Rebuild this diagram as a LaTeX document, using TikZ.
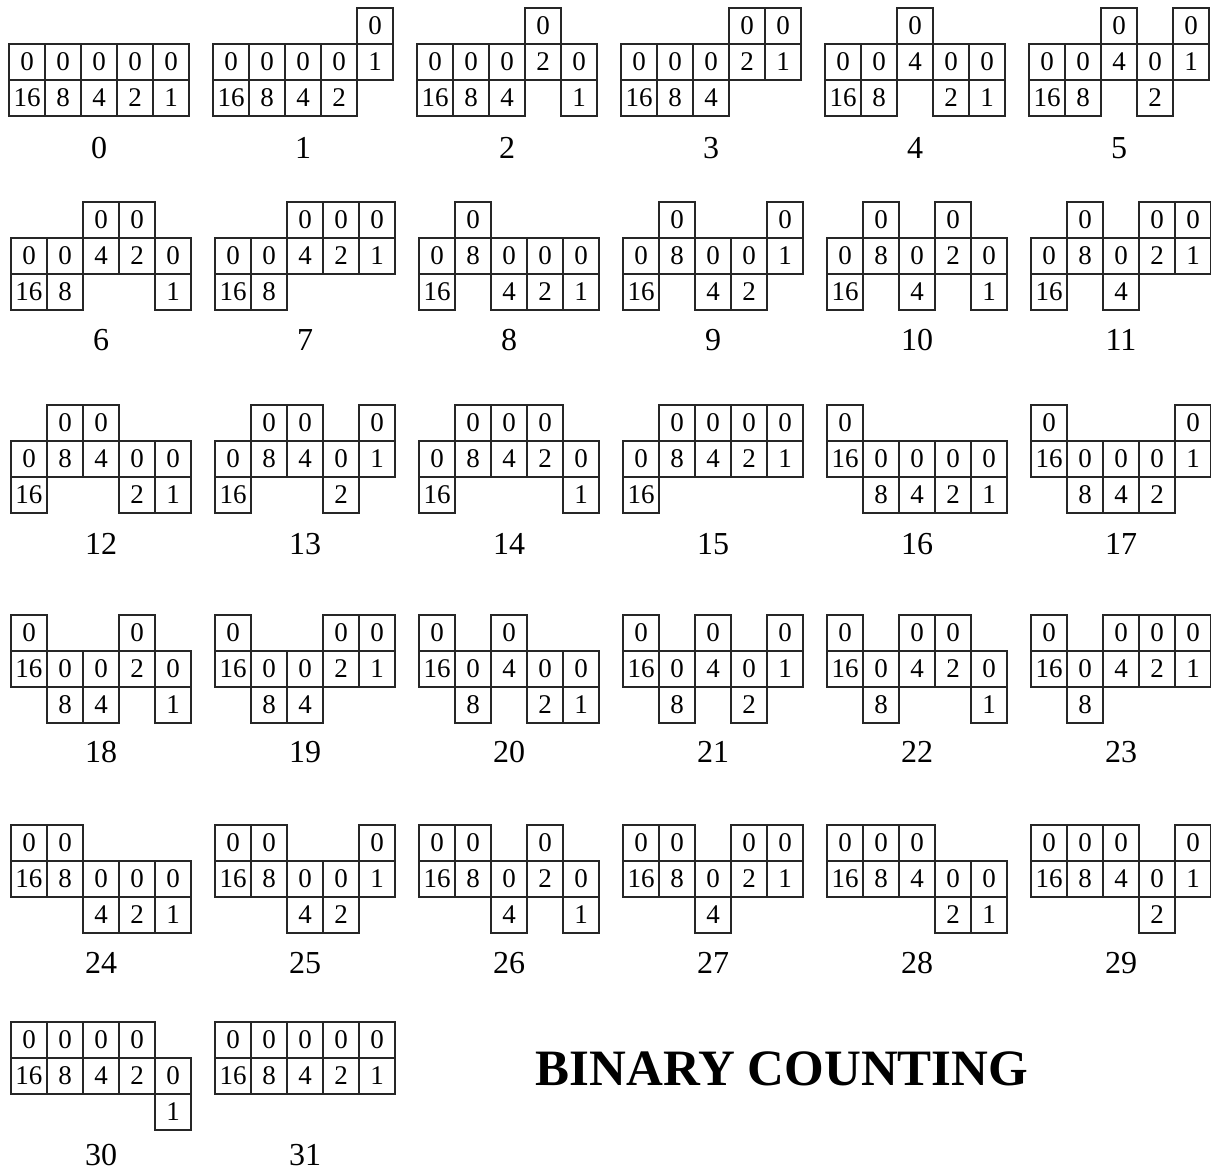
\documentclass[tikz,border=0pt]{standalone}
\usepackage{fontspec}
\setmainfont{Liberation Serif}
\begin{document}
\begin{tikzpicture}[x=1pt,y=-1pt,
  cell/.style={draw=black!85, line width=2.4pt, minimum width=36pt, minimum height=36pt, inner sep=0pt, font=\fontsize{27}{27}\selectfont},
  numlabel/.style={font=\fontsize{32}{32}\selectfont, inner sep=0pt},
  titlestyle/.style={font=\bfseries\fontsize{51}{51}\selectfont, inner sep=0pt}]
\useasboundingbox (0,0) rectangle (1211,1174);
\foreach \n in {0,...,31}{
  \pgfmathtruncatemacro\rowidx{int(\n/6)}
  \pgfmathtruncatemacro\colidx{mod(\n,6)}
  \pgfmathsetmacro\rowtop{{8,202,405,615,825,1022}[\rowidx]}
  \pgfmathsetmacro\labely{{148,340,544,752,963,1155}[\rowidx]}
  \pgfmathsetmacro\xstart{(\rowidx==0 ? 9 : 11) + 204*\colidx}
  \foreach \kk/\val in {0/16,1/8,2/4,3/2,4/1}{
    \pgfmathtruncatemacro\bitv{mod(int(\n/\val),2)}
    \pgfmathsetmacro\cx{\xstart+18+36*\kk}
    \pgfmathsetmacro\ya{\rowtop+18+36*(1-\bitv)}
    \pgfmathsetmacro\yb{\ya+36}
    \node[cell] (z\n-\kk) at (\cx,\ya) {0};
    \node[cell] (v\n-\kk) at (\cx,\yb) {\val};
  }
  \pgfmathsetmacro\lx{\xstart+90}
  \node[numlabel] (lab\n) at (\lx,\labely) {\n};
}
\node[titlestyle] (title) at (782,1069) {BINARY COUNTING};
\end{tikzpicture}
\end{document}
